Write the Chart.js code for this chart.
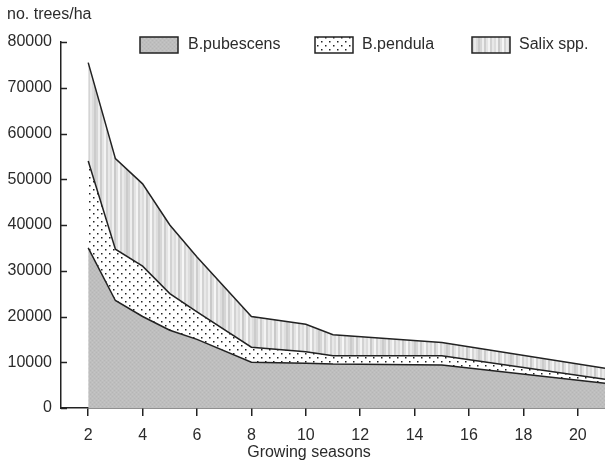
<!DOCTYPE html>
<html>
<head>
<meta charset="utf-8">
<script src="https://cdn.jsdelivr.net/npm/chart.js@4/dist/chart.umd.min.js"></script>
<style>
  html, body { margin: 0; padding: 0; background: #fff; }
  #wrap { width: 605px; height: 463px; position: relative; }
</style>
</head>
<body>
<div id="wrap"><canvas id="chart"></canvas></div>
<script>
// data
const seasons = [2, 3, 4, 5, 6, 8, 10, 11, 15, 21];
const pubescens = [35000, 23500, 20000, 17000, 15000, 10000, 9800, 9600, 9400, 5400];
const pendula = [19000, 11200, 11000, 8000, 6000, 3300, 2500, 1800, 2000, 900];
const salix = [21500, 19800, 18000, 15000, 12000, 6700, 6000, 4600, 2900, 2400];
const yTicks = [0, 10000, 20000, 30000, 40000, 50000, 60000, 70000, 80000];
const xTicks = [2, 4, 6, 8, 10, 12, 14, 16, 18, 20];
const seriesNames = ['B.pubescens', 'B.pendula', 'Salix spp.'];

const FONT = '"Liberation Sans", Arial, sans-serif';
const TEXT = '#2b2b2b';
const LINE = '#222';

function makeTile(w, h, draw) {
  const c = document.createElement('canvas');
  c.width = w; c.height = h;
  draw(c.getContext('2d'));
  return c;
}

const tmp = document.createElement('canvas').getContext('2d');

// grey, slightly textured
const pubTile = makeTile(4, 4, g => {
  g.fillStyle = '#bebebe'; g.fillRect(0, 0, 4, 4);
  g.fillStyle = '#b6b6b6'; g.fillRect(0, 0, 1, 1); g.fillRect(2, 2, 1, 1);
  g.fillStyle = '#c5c5c5'; g.fillRect(2, 0, 1, 1); g.fillRect(0, 2, 1, 1);
});
// white with staggered dots
const pendTile = makeTile(8, 8, g => {
  g.fillStyle = '#fff'; g.fillRect(0, 0, 8, 8);
  g.fillStyle = '#222';
  g.fillRect(1, 1, 1.5, 1.5);
  g.fillRect(5, 5, 1.5, 1.5);
});
// light grey vertical stripes
const stripeShades = ['#d6d6d6', '#eeeeee', '#cdcdcd', '#e4e4e4', '#f4f4f4', '#d2d2d2', '#e8e8e8', '#dcdcdc',
  '#f0f0f0', '#c9c9c9', '#e0e0e0', '#f6f6f6', '#d4d4d4', '#eaeaea', '#dddddd', '#cbcbcb'];
const salixTile = makeTile(stripeShades.length * 2, 2, g => {
  stripeShades.forEach((s, i) => { g.fillStyle = s; g.fillRect(i * 2, 0, 2, 2); });
});

const pubPat = tmp.createPattern(pubTile, 'repeat');
const pendPat = tmp.createPattern(pendTile, 'repeat');
const salixPat = tmp.createPattern(salixTile, 'repeat');
const patterns = [pubPat, pendPat, salixPat];

function pts(arr) {
  return seasons.map((s, i) => ({ x: s, y: arr[i] }));
}

const extras = {
  id: 'extras',
  afterDraw(chart) {
    const ctx = chart.ctx;
    const xs = chart.scales.x, ys = chart.scales.y;
    ctx.save();
    // inward y ticks
    ctx.strokeStyle = LINE;
    ctx.lineWidth = 1.5;
    yTicks.forEach(v => {
      const y = Math.round(ys.getPixelForValue(v)) + 0.5;
      ctx.beginPath();
      ctx.moveTo(xs.left, y);
      ctx.lineTo(xs.left + 6, y);
      ctx.stroke();
    });
    // titles
    ctx.fillStyle = TEXT;
    ctx.font = '16px ' + FONT;
    ctx.textBaseline = 'middle';
    ctx.textAlign = 'left';
    ctx.fillText('no. trees/ha', 7, 15);
    ctx.textAlign = 'center';
    ctx.fillText('Growing seasons', 309, 453);
    // legend
    const boxes = [140, 315, 472];
    const texts = [188, 362, 519];
    seriesNames.forEach((name, i) => {
      ctx.fillStyle = patterns[i];
      ctx.fillRect(boxes[i], 37, 38, 16);
      ctx.strokeStyle = LINE;
      ctx.lineWidth = 1.5;
      ctx.strokeRect(boxes[i], 37, 38, 16);
      ctx.fillStyle = TEXT;
      ctx.textAlign = 'left';
      ctx.fillText(name, texts[i], 45);
    });
    ctx.restore();
  }
};

new Chart(document.getElementById('chart'), {
  type: 'line',
  data: {
    datasets: [
      { label: seriesNames[0], data: pts(pubescens), backgroundColor: pubPat, fill: 'origin' },
      { label: seriesNames[1], data: pts(pendula), backgroundColor: pendPat, fill: '-1' },
      { label: seriesNames[2], data: pts(salix), backgroundColor: salixPat, fill: '-1' }
    ]
  },
  options: {
    responsive: true,
    maintainAspectRatio: false,
    animation: false,
    layout: { padding: { top: 42, right: 0, left: 0, bottom: 0 } },
    elements: {
      line: { borderColor: LINE, borderWidth: 1.5, tension: 0 },
      point: { radius: 0 }
    },
    plugins: {
      legend: { display: false },
      tooltip: { enabled: false }
    },
    scales: {
      x: {
        type: 'linear',
        min: 1,
        max: 21,
        afterBuildTicks: s => { s.ticks = xTicks.map(v => ({ value: v })); },
        afterFit: s => { s.height = 55; },
        border: { display: true, color: LINE, width: 1.5 },
        grid: { drawOnChartArea: false, drawTicks: true, tickLength: 8, color: LINE, lineWidth: 1.5 },
        ticks: { color: TEXT, font: { size: 16, family: FONT }, padding: 10, maxRotation: 0,
          callback: v => String(v) }
      },
      y: {
        stacked: true,
        min: 0,
        max: 80000,
        afterBuildTicks: s => { s.ticks = yTicks.map(v => ({ value: v })); },
        afterFit: s => { s.width = 61; },
        border: { display: true, color: LINE, width: 1.5 },
        grid: { display: false, drawTicks: false, tickLength: 0 },
        ticks: { color: TEXT, font: { size: 16, family: FONT }, padding: 9,
          callback: v => String(v) }
      }
    }
  },
  plugins: [extras]
});
</script>
</body>
</html>
